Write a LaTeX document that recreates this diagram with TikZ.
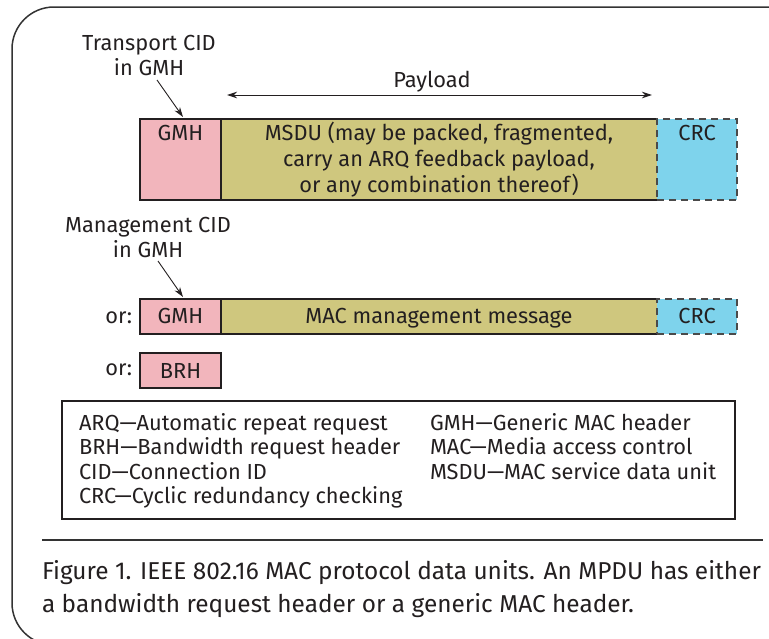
\documentclass[tikz,border=0pt]{standalone}
\usepackage{fontspec}
\setmainfont{Fira Sans}
\usetikzlibrary{arrows.meta}

\definecolor{ink}{HTML}{231F20}
\definecolor{hdrpink}{HTML}{F2B5BC}
\definecolor{payolive}{HTML}{CFC77E}
\definecolor{crcblue}{HTML}{7ED3EC}
\definecolor{dashgray}{HTML}{4A4A4A}
\definecolor{frameline}{HTML}{333333}

\begin{document}
\begin{tikzpicture}[x=1pt,y=-1pt,
  every node/.style={inner sep=0pt, outer sep=0pt, text=ink},
  lbl/.style={font=\fontsize{21.8}{25}\selectfont, align=center, anchor=base},
  leg/.style={font=\fontsize{21.8}{25}\selectfont, anchor=base west},
  captext/.style={font=\fontsize{24.4}{33}\selectfont, anchor=base west},
  boxline/.style={draw=ink, line width=1.1pt},
  field/.style={boxline, anchor=north west},
  crcfield/.style={anchor=north west, fill=crcblue, draw=dashgray, line width=1.3pt,
                   dash pattern=on 7pt off 5pt},
  pointer/.style={draw=ink, line width=0.9pt, -{Stealth[length=10pt,width=6.5pt]}},
]
\useasboundingbox (0,0) rectangle (769,638);

% outer frame with rounded left corners
\begin{scope}
  \clip (0,0) rectangle (769,638);
  \draw[frameline, line width=1.5pt, rounded corners=42pt]
    (775,7) -- (12,7) -- (12,645) -- (775,645);
\end{scope}

% first MPDU: GMH + MSDU + CRC
\node[field, fill=hdrpink, minimum width=81pt, minimum height=81pt] (gmhA) at (140,119) {};
\node[anchor=north west, fill=payolive, minimum width=436pt, minimum height=81pt] (msdu) at (221,119) {};
\draw[boxline] (msdu.north east) -- (msdu.north west) -- (msdu.south west) -- (msdu.south east);
\node[crcfield, minimum width=80pt, minimum height=81pt] (crcA) at (657,119) {};

\node[lbl] (gmhAt) at (180.5,140) {GMH};
% multi-line nodes sit on the baseline of their last line
\node[lbl, font=\fontsize{21.8}{26}\selectfont] (msdut) at (439,192)
  {MSDU (may be packed, fragmented,\\carry an ARQ feedback payload,\\or any combination thereof)};
\node[lbl] (crcAt) at (697,140) {CRC};

% payload span
\coordinate (plL) at (227,95);
\coordinate (plR) at (652,95);
\draw[draw=ink, line width=0.9pt, {Stealth[length=10pt,width=6.5pt]}-{Stealth[length=10pt,width=6.5pt]}] (plL) -- (plR);
\node[lbl] (payload) at (432,87) {Payload};

% transport CID callout
\node[lbl] (tcid) at (149,75) {Transport CID\\in GMH};
\coordinate (tcidS) at (157,80);
\coordinate (tcidE) at (183,117);
\draw[pointer] (tcidS) -- (tcidE);

% second MPDU: GMH + management message + CRC
\node[lbl] (mcid) at (148,257) {Management CID\\in GMH};
\coordinate (mcidS) at (158,261);
\coordinate (mcidE) at (183,297);
\draw[pointer] (mcidS) -- (mcidE);

\node[field, fill=hdrpink, minimum width=81pt, minimum height=35pt] (gmhB) at (140,299) {};
\node[anchor=north west, fill=payolive, minimum width=436pt, minimum height=35pt] (mgmt) at (221,299) {};
\draw[boxline] (mgmt.north east) -- (mgmt.north west) -- (mgmt.south west) -- (mgmt.south east);
\node[crcfield, minimum width=80pt, minimum height=35pt] (crcB) at (657,299) {};

\node[lbl, anchor=base east] (orB) at (132,323) {or:};
\node[lbl] (gmhBt) at (180.5,323) {GMH};
\node[lbl] (mgmtt) at (439,323) {MAC management message};
\node[lbl] (crcBt) at (697,323) {CRC};

% third MPDU: bandwidth request header only
\node[field, fill=hdrpink, minimum width=81pt, minimum height=35pt] (brh) at (140,353) {};
\node[lbl, anchor=base east] (orC) at (132,375) {or:};
\node[lbl] (brht) at (180.5,378) {BRH};

% legend
\node[boxline, anchor=north west, minimum width=673pt, minimum height=118pt] (legend) at (62,401) {};
\node[leg] (l1) at (79,430) {ARQ—Automatic repeat request};
\node[leg] (l2) at (79,454.5) {BRH—Bandwidth request header};
\node[leg] (l3) at (79,479) {CID—Connection ID};
\node[leg] (l4) at (79,503.5) {CRC—Cyclic redundancy checking};
\node[leg] (r1) at (430,430) {GMH—Generic MAC header};
\node[leg] (r2) at (430,454.5) {MAC—Media access control};
\node[leg] (r3) at (430,479) {MSDU—MAC service data unit};

% caption
\coordinate (sepL) at (42,540);
\coordinate (sepR) at (763,540);
\draw[frameline, line width=1.2pt] (sepL) -- (sepR);
\node[captext] (cap1) at (42,579) {Figure 1. IEEE 802.16 MAC protocol data units. An MPDU has either};
\node[captext] (cap2) at (42,612) {a bandwidth request header or a generic MAC header.};
\end{tikzpicture}
\end{document}
